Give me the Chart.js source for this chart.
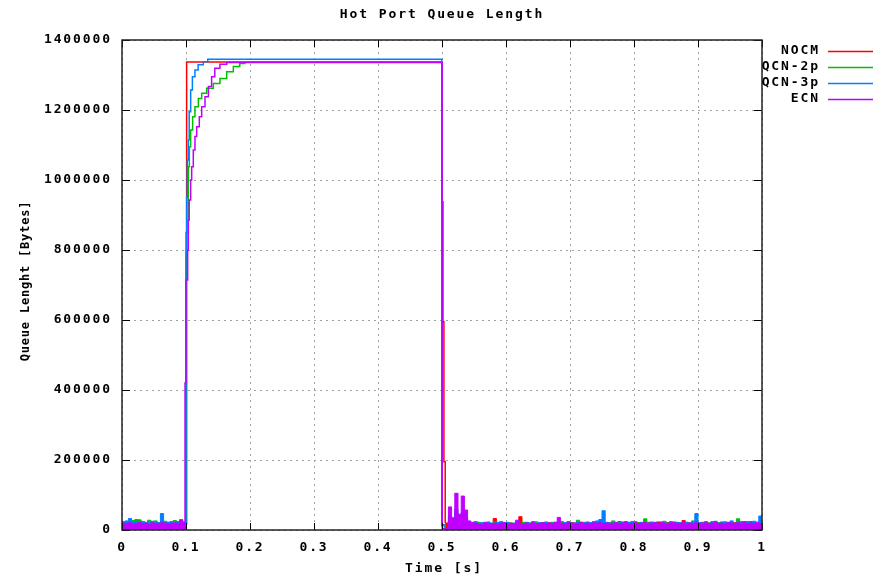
<!DOCTYPE html>
<html>
<head>
<meta charset="utf-8">
<script src="https://cdn.jsdelivr.net/npm/chart.js@4.4.0/dist/chart.umd.min.js"></script>
<style>
  html, body { margin: 0; padding: 0; background: #fff; }
  canvas { display: block; }
</style>
</head>
<body>
<canvas id="chart" width="875" height="578"></canvas>
<script>
const seriesNames = ['NOCM', 'QCN-2p', 'QCN-3p', 'ECN'];
const timeTicks = [0, 0.1, 0.2, 0.3, 0.4, 0.5, 0.6, 0.7, 0.8, 0.9, 1];
const queueTicks = [0, 200000, 400000, 600000, 800000, 1000000, 1200000, 1400000];

// idle queue before the burst (5 ms samples)
const preTimes = [0, 0.005, 0.01, 0.015, 0.02, 0.025, 0.03, 0.035, 0.04, 0.045, 0.05,
                  0.055, 0.06, 0.065, 0.07, 0.075, 0.08, 0.085, 0.09, 0.095, 0.1];
const nocmPre = [18000, 17000, 19000, 16000, 18000, 20000, 17000, 19000, 15000, 20000, 18000,
                 17000, 21000, 19000, 16000, 18000, 20000, 17000, 19000, 18000, 19000];
const qcn2Pre = [24000, 21000, 26000, 27000, 30000, 29000, 24000, 22000, 28000, 21000, 26000,
                 21000, 23000, 25000, 22000, 24000, 27000, 21000, 23000, 20000, 21000];
const qcn3Pre = [22000, 26000, 33000, 21000, 25000, 20000, 24000, 19000, 23000, 25000, 22000,
                 21000, 47000, 20000, 22000, 23000, 20000, 24000, 30000, 22000, 21000];
const ecnPre  = [20000, 18000, 21000, 17000, 19000, 22000, 18000, 20000, 16000, 21000, 19000,
                 18000, 22000, 20000, 17000, 19000, 21000, 18000, 27000, 19000, 20000];

// burst: build-up at 0.1 s, drain at 0.5 s
const nocmBurstT = [0.101, 0.5, 0.5001, 0.5015, 0.503];
const nocmBurstV = [1337000, 1337000, 938000, 595000, 195000];
const qcn2BurstT = [0.1, 0.1036, 0.1052, 0.1073, 0.1104, 0.114, 0.1193, 0.1245, 0.1323, 0.1427,
                    0.153, 0.1636, 0.174, 0.184, 0.192, 0.4995, 0.4996];
const qcn2BurstV = [850000, 1038000, 1095000, 1143000, 1181000, 1209000, 1233000, 1248000, 1262000, 1276000,
                    1290000, 1309000, 1324000, 1333000, 1337000, 1337000, 12000];
const qcn3BurstT = [0.1, 0.101, 0.102, 0.1036, 0.105, 0.1073, 0.11, 0.114, 0.119, 0.127, 0.134, 0.4995, 0.4996];
const qcn3BurstV = [790000, 950000, 1057000, 1114000, 1195000, 1257000, 1295000, 1314000, 1329000, 1338000,
                    1345000, 1345000, 15000];
const ecnBurstT = [0.0985, 0.1, 0.1026, 0.1036, 0.105, 0.1073, 0.1089, 0.1114, 0.114, 0.1167, 0.1208,
                   0.1245, 0.1297, 0.135, 0.14, 0.145, 0.153, 0.1636, 0.5, 0.5003];
const ecnBurstV = [420000, 714000, 800000, 886000, 943000, 1000000, 1038000, 1086000, 1124000, 1152000, 1181000,
                   1209000, 1238000, 1267000, 1295000, 1319000, 1331000, 1336000, 1336000, 4000];

// queue after the burst (5 ms samples)
const postTimes = [0.505, 0.51, 0.515, 0.52, 0.525, 0.53, 0.535, 0.54, 0.545, 0.55,
                   0.555, 0.56, 0.565, 0.57, 0.575, 0.58, 0.585, 0.59, 0.595, 0.6,
                   0.605, 0.61, 0.615, 0.62, 0.625, 0.63, 0.635, 0.64, 0.645, 0.65,
                   0.655, 0.66, 0.665, 0.67, 0.675, 0.68, 0.685, 0.69, 0.695, 0.7,
                   0.705, 0.71, 0.715, 0.72, 0.725, 0.73, 0.735, 0.74, 0.745, 0.75,
                   0.755, 0.76, 0.765, 0.77, 0.775, 0.78, 0.785, 0.79, 0.795, 0.8,
                   0.805, 0.81, 0.815, 0.82, 0.825, 0.83, 0.835, 0.84, 0.845, 0.85,
                   0.855, 0.86, 0.865, 0.87, 0.875, 0.88, 0.885, 0.89, 0.895, 0.9,
                   0.905, 0.91, 0.915, 0.92, 0.925, 0.93, 0.935, 0.94, 0.945, 0.95,
                   0.955, 0.96, 0.965, 0.97, 0.975, 0.98, 0.985, 0.99, 0.995, 1];
const nocmPost = [20000, 25000, 10000, 50000, 15000, 35000, 20000, 12000, 17000, 19000,
                  21000, 18000, 16000, 20000, 18000, 33000, 19000, 17000, 21000, 18000,
                  20000, 17000, 19000, 38000, 18000, 21000, 17000, 19000, 22000, 18000,
                  20000, 17000, 21000, 19000, 18000, 22000, 20000, 17000, 19000, 21000,
                  18000, 20000, 22000, 17000, 19000, 21000, 18000, 20000, 17000, 23000,
                  19000, 21000, 18000, 20000, 24000, 17000, 19000, 22000, 18000, 20000,
                  21000, 17000, 19000, 22000, 18000, 20000, 23000, 19000, 17000, 21000,
                  18000, 20000, 22000, 19000, 27000, 18000, 20000, 21000, 17000, 19000,
                  22000, 18000, 20000, 17000, 21000, 19000, 23000, 18000, 20000, 17000,
                  21000, 19000, 22000, 18000, 20000, 24000, 19000, 21000, 18000, 20000];
const qcn2Post = [2000, 30000, 15000, 45000, 20000, 40000, 25000, 15000, 18000, 20000,
                  22000, 17000, 19000, 21000, 18000, 23000, 20000, 17000, 19000, 22000,
                  20000, 18000, 21000, 19000, 22000, 17000, 20000, 18000, 23000, 19000,
                  21000, 20000, 17000, 22000, 18000, 20000, 24000, 19000, 21000, 18000,
                  20000, 28000, 19000, 22000, 18000, 21000, 23000, 20000, 19000, 22000,
                  18000, 20000, 26000, 19000, 21000, 18000, 22000, 20000, 19000, 24000,
                  21000, 19000, 32000, 20000, 18000, 22000, 19000, 21000, 25000, 18000,
                  20000, 23000, 19000, 21000, 18000, 22000, 20000, 26000, 19000, 21000,
                  18000, 22000, 20000, 24000, 19000, 21000, 18000, 23000, 20000, 22000,
                  19000, 32000, 21000, 18000, 24000, 20000, 22000, 19000, 21000, 23000];
const qcn3Post = [3000, 40000, 20000, 60000, 30000, 50000, 35000, 18000, 20000, 24000,
                  18000, 21000, 19000, 23000, 20000, 17000, 22000, 24000, 19000, 21000,
                  18000, 20000, 23000, 19000, 17000, 22000, 20000, 24000, 18000, 21000,
                  19000, 23000, 17000, 20000, 22000, 19000, 18000, 21000, 24000, 20000,
                  19000, 22000, 18000, 20000, 23000, 21000, 24000, 26000, 30000, 55000,
                  22000, 19000, 21000, 18000, 20000, 23000, 19000, 21000, 24000, 20000,
                  18000, 22000, 20000, 19000, 23000, 21000, 17000, 20000, 22000, 18000,
                  24000, 19000, 21000, 20000, 18000, 22000, 19000, 23000, 47000, 21000,
                  20000, 24000, 18000, 22000, 25000, 19000, 21000, 23000, 20000, 26000,
                  19000, 22000, 24000, 20000, 23000, 21000, 25000, 22000, 40000, 28000];
const ecnPost  = [5000, 66000, 35000, 105000, 45000, 97000, 57000, 26000, 22000, 20000,
                  16000, 15000, 22000, 18000, 17000, 20000, 16000, 19000, 21000, 17000,
                  19000, 18000, 28000, 19000, 17000, 20000, 18000, 22000, 17000, 19000,
                  21000, 18000, 20000, 17000, 22000, 36000, 19000, 18000, 21000, 17000,
                  20000, 19000, 22000, 18000, 20000, 17000, 21000, 19000, 22000, 18000,
                  20000, 17000, 19000, 22000, 18000, 20000, 24000, 17000, 19000, 21000,
                  18000, 20000, 22000, 17000, 19000, 21000, 18000, 23000, 19000, 17000,
                  20000, 22000, 18000, 19000, 21000, 17000, 20000, 18000, 22000, 19000,
                  17000, 21000, 18000, 20000, 23000, 18000, 19000, 17000, 22000, 20000,
                  18000, 21000, 19000, 24000, 18000, 20000, 19000, 22000, 18000, 25000];

const colors = ['#ff0000', '#00c000', '#0080ff', '#c000ff'];
const MONO = '"DejaVu Sans Mono", "Liberation Mono", monospace';

function pts(ts, vs) {
  return ts.map((t, i) => ({ x: t, y: vs[i] }));
}

// every series: idle part (filled), burst line, drain part (filled)
function series(i, pre, burstT, burstV, post) {
  const k = preTimes.length - 2;
  const common = {
    label: seriesNames[i],
    borderColor: colors[i],
    backgroundColor: colors[i],
    pointRadius: 0,
    stepped: true,
    order: 4 - i
  };
  return [
    Object.assign({}, common, { data: pts(preTimes, pre), fill: 'origin', borderWidth: 1 }),
    Object.assign({}, common, {
      data: [{ x: preTimes[k], y: pre[k] }].concat(pts(burstT, burstV), [{ x: postTimes[0], y: post[0] }]),
      fill: false, borderWidth: 1.5
    }),
    Object.assign({}, common, { data: pts(postTimes, post), fill: 'origin', borderWidth: 1 })
  ];
}

const datasets = [].concat(
  series(0, nocmPre, nocmBurstT, nocmBurstV, nocmPost),
  series(1, qcn2Pre, qcn2BurstT, qcn2BurstV, qcn2Post),
  series(2, qcn3Pre, qcn3BurstT, qcn3BurstV, qcn3Post),
  series(3, ecnPre, ecnBurstT, ecnBurstV, ecnPost)
);

const gnuplotLook = {
  id: 'gnuplotLook',
  beforeDraw(chart) {
    chart.ctx.letterSpacing = '1.9px';
  },
  afterDatasetsDraw(chart) {
    const { ctx, chartArea: a, scales: { x, y } } = chart;
    ctx.save();
    ctx.strokeStyle = '#000';
    ctx.lineWidth = 1;
    ctx.beginPath();
    x.ticks.forEach(t => {
      const px = Math.round(x.getPixelForValue(t.value)) + 0.5;
      ctx.moveTo(px, a.bottom); ctx.lineTo(px, a.bottom - 7);
      ctx.moveTo(px, a.top); ctx.lineTo(px, a.top + 7);
    });
    y.ticks.forEach(t => {
      const py = Math.round(y.getPixelForValue(t.value)) + 0.5;
      ctx.moveTo(a.left, py); ctx.lineTo(a.left + 8, py);
      ctx.moveTo(a.right, py); ctx.lineTo(a.right - 8, py);
    });
    ctx.stroke();
    ctx.lineWidth = 1.5;
    ctx.strokeStyle = '#222';
    ctx.strokeRect(a.left, a.top, a.right - a.left, a.bottom - a.top);
    ctx.restore();
  },
  afterDraw(chart) {
    const ctx = chart.ctx;
    ctx.save();
    ctx.fillStyle = '#000';
    ctx.font = 'bold 13px ' + MONO;
    ctx.letterSpacing = '1.9px';
    ctx.textBaseline = 'middle';
    ctx.textAlign = 'center';
    ctx.fillText('Hot Port Queue Length', 442, 15);
    ctx.fillText('Time [s]', 444, 569);

    // legend, gnuplot style: label then line sample
    ctx.textAlign = 'right';
    seriesNames.forEach((name, i) => {
      const yy = 51 + i * 16;
      ctx.fillStyle = '#000';
      ctx.fillText(name, 820, yy);
      ctx.strokeStyle = colors[i];
      ctx.lineWidth = 1.5;
      ctx.beginPath();
      ctx.moveTo(828, yy + 0.5);
      ctx.lineTo(873, yy + 0.5);
      ctx.stroke();
    });

    ctx.font = 'bold 12px ' + MONO;
    ctx.letterSpacing = '0.8px';
    ctx.translate(26, 281);
    ctx.rotate(-Math.PI / 2);
    ctx.textAlign = 'center';
    ctx.fillStyle = '#000';
    ctx.fillText('Queue Lenght [Bytes]', 0, 0);
    ctx.restore();
    ctx.letterSpacing = '0px';
  }
};

new Chart(document.getElementById('chart'), {
  type: 'line',
  data: { datasets: datasets },
  plugins: [gnuplotLook],
  options: {
    responsive: false,
    devicePixelRatio: 1,
    animation: false,
    layout: { padding: { left: 0, right: 113, top: 40, bottom: 0 } },
    plugins: {
      legend: { display: false },
      tooltip: { enabled: false },
      title: { display: false }
    },
    scales: {
      x: {
        type: 'linear',
        min: 0,
        max: 1,
        afterFit: s => { s.height = 48; },
        afterBuildTicks: s => { s.ticks = timeTicks.map(v => ({ value: v })); },
        grid: { color: '#a0a0a0', lineWidth: 1, drawTicks: false },
        border: { display: false, dash: [2, 4] },
        ticks: {
          padding: 10,
          color: '#000',
          font: { family: MONO, size: 13, weight: 'bold' },
          maxRotation: 0,
          callback: v => String(v)
        }
      },
      y: {
        type: 'linear',
        min: 0,
        max: 1400000,
        afterFit: s => { s.width = 122; },
        afterBuildTicks: s => { s.ticks = queueTicks.map(v => ({ value: v })); },
        grid: { color: '#a0a0a0', lineWidth: 1, drawTicks: false },
        border: { display: false, dash: [2, 4] },
        ticks: {
          padding: 10,
          color: '#000',
          font: { family: MONO, size: 13, weight: 'bold' },
          callback: v => String(v)
        }
      }
    }
  }
});
</script>
</body>
</html>
